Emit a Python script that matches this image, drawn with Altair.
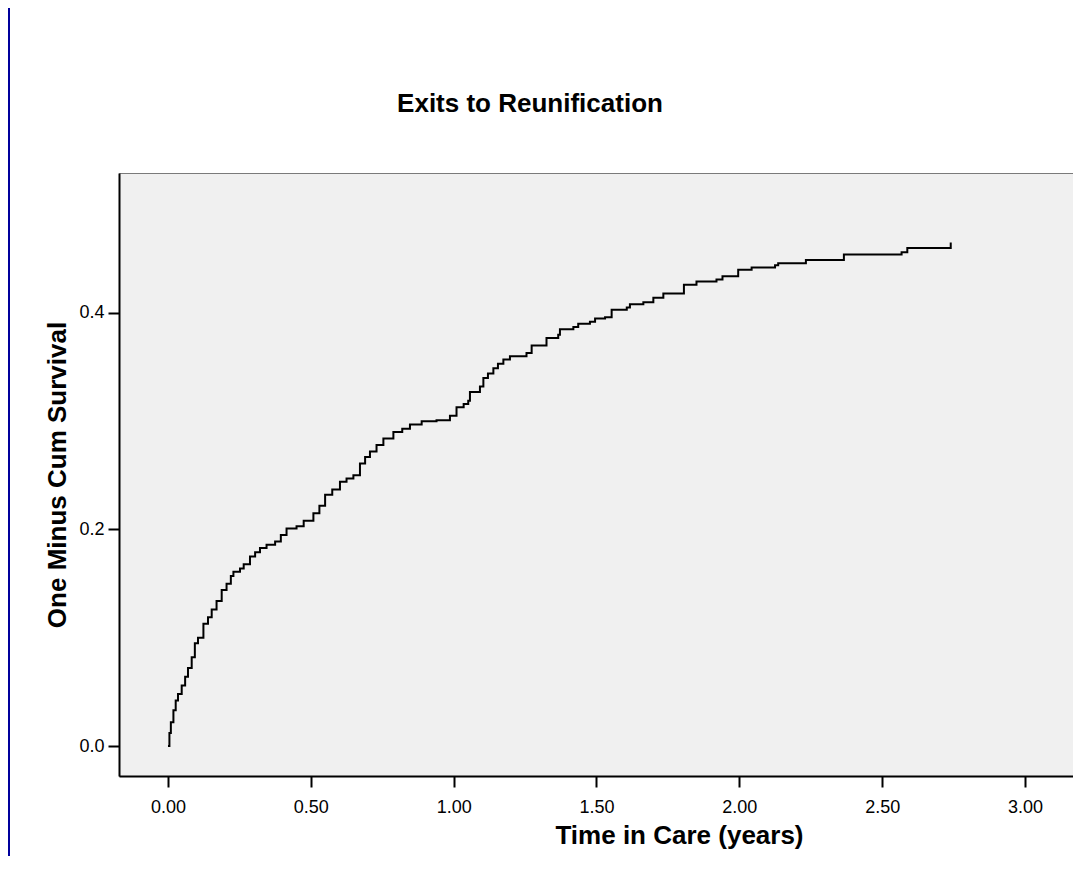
import altair as alt
import pandas as pd

# Kaplan-Meier style "one minus cumulative survival"
time_years = [
    0.000, 0.005, 0.010, 0.019, 0.027, 0.035, 0.048, 0.060, 0.070, 0.083,
    0.094, 0.105, 0.124, 0.140, 0.153, 0.170, 0.188, 0.205, 0.220, 0.229,
    0.252, 0.265, 0.287, 0.305, 0.322, 0.345, 0.375, 0.395, 0.415, 0.450,
    0.475, 0.509, 0.530, 0.550, 0.575, 0.602, 0.625, 0.649, 0.672, 0.690,
    0.707, 0.730, 0.754, 0.789, 0.820, 0.847, 0.888, 0.940, 0.987, 1.010,
    1.035, 1.051, 1.057, 1.092, 1.104, 1.120, 1.139, 1.155, 1.174, 1.197,
    1.255, 1.273, 1.325, 1.366, 1.372, 1.419, 1.436, 1.477, 1.495, 1.530,
    1.553, 1.606, 1.617, 1.664, 1.699, 1.734, 1.806, 1.850, 1.920, 1.941,
    1.996, 2.043, 2.125, 2.136, 2.233, 2.366, 2.568, 2.588, 2.740,
]
one_minus_cum_survival = [
    0.000, 0.012, 0.022, 0.033, 0.042, 0.048, 0.056, 0.064, 0.072, 0.082,
    0.095, 0.100, 0.113, 0.119, 0.126, 0.134, 0.144, 0.150, 0.157, 0.161,
    0.164, 0.168, 0.175, 0.179, 0.183, 0.186, 0.189, 0.195, 0.201, 0.203,
    0.208, 0.215, 0.222, 0.232, 0.237, 0.244, 0.247, 0.250, 0.261, 0.267,
    0.272, 0.278, 0.284, 0.290, 0.293, 0.297, 0.300, 0.301, 0.305, 0.313,
    0.316, 0.319, 0.327, 0.332, 0.340, 0.344, 0.349, 0.353, 0.357, 0.360,
    0.363, 0.370, 0.377, 0.380, 0.385, 0.387, 0.390, 0.392, 0.395, 0.396,
    0.403, 0.405, 0.408, 0.410, 0.414, 0.418, 0.426, 0.429, 0.431, 0.434,
    0.440, 0.442, 0.444, 0.446, 0.449, 0.454, 0.456, 0.460, 0.465,
]
x_ticks = [0.0, 0.5, 1.0, 1.5, 2.0, 2.5, 3.0]
y_ticks = [0.0, 0.2, 0.4]
chart_title = "Exits to Reunification"

df = pd.DataFrame({"t": time_years, "s": one_minus_cum_survival})

FONT = "Liberation Sans"

line = alt.Chart(df).mark_line(
    interpolate="step-after", color="black", strokeWidth=2
).encode(
    x=alt.X(
        "t:Q",
        scale=alt.Scale(domain=[-0.1715, 3.168], nice=False, zero=False),
        axis=alt.Axis(values=x_ticks, format=".2f", title="Time in Care (years)",
                      labelPadding=11, titlePadding=6, titleX=560, titleAnchor="middle"),
    ),
    y=alt.Y(
        "s:Q",
        scale=alt.Scale(domain=[-0.0277, 0.5293], nice=False, zero=False),
        axis=alt.Axis(values=y_ticks, format=".1f", title="One Minus Cum Survival",
                      labelPadding=4, titlePadding=8),
    ),
)

# chart title drawn as text (placed left of the plot centre, as in the reference)
title = alt.Chart(pd.DataFrame({"label": [chart_title]})).mark_text(
    font=FONT, fontSize=26, fontWeight="bold", color="black",
    align="center", baseline="middle",
).encode(text="label:N", x=alt.value(411), y=alt.value(-69))

# navy frame strip at the left edge of the page
strip = alt.Chart(pd.DataFrame({"k": [0]})).mark_rect(color="#00009c").encode(
    x=alt.value(-111), x2=alt.value(-109), y=alt.value(-165), y2=alt.value(700)
)

chart = alt.layer(line, title, strip).properties(
    width=954,
    height=603,
    autosize=alt.AutoSizeParams(type="none"),
    padding={"left": 111, "top": 165, "right": 0, "bottom": 80},
    background="white",
).configure_view(
    fill="#f0f0f0", stroke="#7a7a7a", strokeWidth=1
).configure_axis(
    grid=False, domainColor="black", domainWidth=2, tickColor="black",
    tickWidth=2, tickSize=11, labelFont=FONT, labelFontSize=18,
    labelColor="black", titleFont=FONT, titleFontSize=26,
    titleFontWeight="bold", titleColor="black",
)

chart.save("out.html", embed_options={"renderer": "svg", "actions": False})
